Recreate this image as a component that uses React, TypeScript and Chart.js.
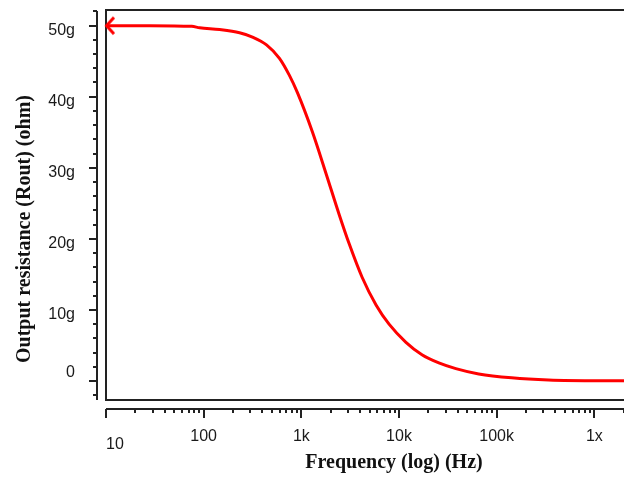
import React, { useEffect, useRef } from 'react';
import { Chart, registerables } from 'chart.js';

Chart.register(...registerables);

// Frequency (Hz) and output resistance (in "g" units)
const freqHz = [10, 28.1, 75.5, 91, 145.5, 233, 316, 440, 597, 755, 910, 1294, 1799, 2443, 3090, 4190, 5820, 7910, 11780, 17180, 25580, 38180, 65500, 142300, 339500, 1760000, 10000000];
const routG = [50.0, 50.0, 49.9, 49.7, 49.45, 49.0, 48.4, 47.3, 45.4, 43.0, 40.6, 35.1, 29.1, 23.4, 19.3, 14.6, 10.7, 8.0, 5.45, 3.7, 2.55, 1.75, 1.0, 0.45, 0.15, 0.03, 0.0];

const yMajorTicks = [0, 10, 20, 30, 40, 50];
const yMinorTicks = [-2, 2, 4, 6, 8, 12, 14, 16, 18, 22, 24, 26, 28, 32, 34, 36, 38, 42, 44, 46, 48, 52];
const xMajorTicks = [10, 100, 1000, 10000, 100000, 1000000, 10000000];
const xMajorLabels = ['10', '100', '1k', '10k', '100k', '1x', '10x'];
const xMinorMultipliers = [2, 3, 4, 5, 6, 7, 8, 9];

const xTitle = 'Frequency (log) (Hz)';
const yTitle = 'Output resistance (Rout) (ohm)';

function makeArrow(): HTMLCanvasElement {
  const c = document.createElement('canvas');
  c.width = 24;
  c.height = 24;
  const g = c.getContext('2d')!;
  g.strokeStyle = '#ff0000';
  g.lineWidth = 3;
  g.lineCap = 'butt';
  g.beginPath();
  g.moveTo(20, 3.7);
  g.lineTo(12.5, 12);
  g.lineTo(20, 20.3);
  g.stroke();
  return c;
}

function zeroPadding(s: any) {
  s.paddingTop = 0;
  s.paddingBottom = 0;
  s.paddingLeft = 0;
  s.paddingRight = 0;
}

const axisPlugin = {
  id: 'axisDecor',
  beforeDatasetsDraw(chart: any) {
    const { ctx, chartArea } = chart;
    ctx.save();
    ctx.strokeStyle = '#222';
    ctx.lineWidth = 2;
    ctx.beginPath();
    ctx.moveTo(chartArea.right + 10, chartArea.top);
    ctx.lineTo(chartArea.left, chartArea.top);
    ctx.lineTo(chartArea.left, chartArea.bottom);
    ctx.lineTo(chartArea.right + 10, chartArea.bottom);
    ctx.stroke();
    ctx.restore();
  },
  afterDraw(chart: any) {
    const { ctx, chartArea, scales } = chart;
    const ys = scales.y;
    const xs = scales.x;
    ctx.save();
    ctx.strokeStyle = '#222';
    ctx.lineWidth = 2;
    // y axis line
    const ax = chartArea.left - 9;
    ctx.beginPath();
    ctx.moveTo(ax, chartArea.top + 1);
    ctx.lineTo(ax, chartArea.bottom);
    ctx.stroke();
    yMajorTicks.forEach((v) => {
      const p = Math.round(ys.getPixelForValue(v));
      ctx.beginPath();
      ctx.moveTo(ax - 8, p);
      ctx.lineTo(ax, p);
      ctx.stroke();
    });
    yMinorTicks.forEach((v) => {
      const p = Math.round(ys.getPixelForValue(v));
      ctx.beginPath();
      ctx.moveTo(ax - 4, p);
      ctx.lineTo(ax, p);
      ctx.stroke();
    });
    // x axis line
    const ay = chartArea.bottom + 9;
    ctx.beginPath();
    ctx.moveTo(chartArea.left, ay);
    ctx.lineTo(chartArea.right + 10, ay);
    ctx.stroke();
    xMajorTicks.forEach((v) => {
      const p = Math.round(xs.getPixelForValue(v));
      ctx.beginPath();
      ctx.moveTo(p, ay);
      ctx.lineTo(p, ay + 9);
      ctx.stroke();
    });
    xMajorTicks.slice(0, -1).forEach((d) => {
      xMinorMultipliers.forEach((m) => {
        const p = Math.round(xs.getPixelForValue(d * m));
        ctx.beginPath();
        ctx.moveTo(p, ay);
        ctx.lineTo(p, ay + 4);
        ctx.stroke();
      });
    });
    // special tick labels
    ctx.fillStyle = '#1a1a1a';
    ctx.font = '16px "Liberation Sans", Arial, sans-serif';
    ctx.textBaseline = 'middle';
    ctx.textAlign = 'left';
    ctx.fillText(xMajorLabels[0], xs.getPixelForValue(xMajorTicks[0]), 445);
    ctx.textAlign = 'right';
    ctx.fillText('0', chartArea.left - 31, ys.getPixelForValue(0) - 8);
    // titles
    ctx.font = 'bold 20px "Liberation Serif", "Times New Roman", serif';
    ctx.textAlign = 'center';
    ctx.textBaseline = 'alphabetic';
    ctx.fillStyle = '#111';
    ctx.fillText(xTitle, 394, 468);
    ctx.translate(30, 229);
    ctx.rotate(-Math.PI / 2);
    ctx.fillText(yTitle, 0, 0);
    ctx.restore();
  },
};

export default function App() {
  const ref = useRef<HTMLCanvasElement | null>(null);
  useEffect(() => {
    if (!ref.current) return;
    const arrow = makeArrow();
    const chart = new Chart(ref.current, {
      type: 'line',
      data: {
        datasets: [
          {
            data: freqHz.map((f, i) => ({ x: f, y: routG[i] })),
            borderColor: '#ff0000',
            borderWidth: 3,
            cubicInterpolationMode: 'monotone',
            pointRadius: (c: any) => (c.dataIndex === 0 ? 5 : 0),
            pointStyle: (c: any) => (c.dataIndex === 0 ? arrow : 'circle'),
            clip: false,
          } as any,
        ],
      },
      options: {
        animation: false,
        responsive: false,
        devicePixelRatio: 1,
        layout: { padding: { top: 10, right: 6, left: 0, bottom: 0 } },
        plugins: { legend: { display: false }, tooltip: { enabled: false } },
        scales: {
          x: {
            type: 'logarithmic',
            min: 10,
            max: 10000000,
            afterBuildTicks: (s: any) => {
              s.ticks = xMajorTicks.map((v) => ({ value: v }));
            },
            afterFit: (s: any) => {
              s.height = 80;
              zeroPadding(s);
            },
            grid: { display: false, drawTicks: false },
            border: { display: false },
            ticks: {
              autoSkip: false,
              maxRotation: 0,
              minRotation: 0,
              padding: 27,
              color: '#1a1a1a',
              font: { family: '"Liberation Sans", Arial, sans-serif', size: 16 },
              callback: (v: any) => {
                const i = xMajorTicks.indexOf(Number(v));
                return i <= 0 ? '' : xMajorLabels[i];
              },
            },
          },
          y: {
            type: 'linear',
            min: -2.67,
            max: 52.2,
            afterBuildTicks: (s: any) => {
              s.ticks = yMajorTicks.map((v) => ({ value: v }));
            },
            afterFit: (s: any) => {
              s.width = 106;
              zeroPadding(s);
            },
            grid: { display: false, drawTicks: false },
            border: { display: false },
            ticks: {
              padding: 31,
              labelOffset: 5,
              color: '#1a1a1a',
              font: { family: '"Liberation Sans", Arial, sans-serif', size: 16 },
              callback: (v: any) => (Number(v) === 0 ? '' : v + 'g'),
            },
          },
        },
      },
      plugins: [axisPlugin],
    });
    return () => chart.destroy();
  }, []);
  return (
    <div style={{ position: 'fixed', left: 0, top: 0, width: 624, height: 480, overflow: 'hidden', background: '#fff' }}>
      <canvas ref={ref} width={700} height={480} style={{ width: 700, height: 480, display: 'block' }} />
    </div>
  );
}
